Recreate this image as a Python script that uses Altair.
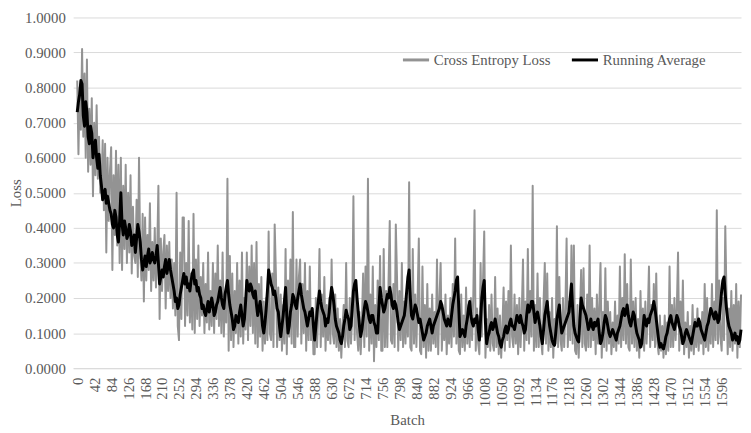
import altair as alt
import pandas as pd

# x categories: both series sampled every 3 batches
BATCH = list(range(0, 1645, 3))

CROSS_ENTROPY = [
    0.82, 0.61, 0.80, 0.68, 0.91, 0.66, 0.84, 0.60, 0.88, 0.56, 0.74, 0.58,
    0.77, 0.49, 0.70, 0.55, 0.75, 0.54, 0.66, 0.50, 0.52, 0.65, 0.45, 0.64,
    0.33, 0.60, 0.42, 0.56, 0.63, 0.28, 0.55, 0.38, 0.62, 0.35, 0.58, 0.30,
    0.60, 0.28, 0.52, 0.34, 0.58, 0.30, 0.50, 0.33, 0.55, 0.27, 0.46, 0.32,
    0.30, 0.48, 0.26, 0.60, 0.33, 0.25, 0.44, 0.19, 0.43, 0.25, 0.38, 0.28,
    0.47, 0.22, 0.36, 0.25, 0.40, 0.23, 0.33, 0.52, 0.14, 0.37, 0.22, 0.33,
    0.38, 0.17, 0.35, 0.22, 0.36, 0.20, 0.31, 0.17, 0.30, 0.15, 0.50, 0.12,
    0.08, 0.33, 0.14, 0.43, 0.43, 0.12, 0.30, 0.15, 0.42, 0.13, 0.27, 0.11,
    0.44, 0.10, 0.31, 0.14, 0.35, 0.12, 0.26, 0.15, 0.30, 0.10, 0.24, 0.13,
    0.33, 0.11, 0.22, 0.12, 0.30, 0.10, 0.27, 0.14, 0.35, 0.12, 0.25, 0.10,
    0.33, 0.09, 0.21, 0.13, 0.54, 0.05, 0.32, 0.08, 0.27, 0.06, 0.22, 0.10,
    0.30, 0.07, 0.25, 0.09, 0.33, 0.07, 0.20, 0.11, 0.33, 0.08, 0.29, 0.12,
    0.35, 0.10, 0.30, 0.07, 0.36, 0.06, 0.24, 0.09, 0.26, 0.05, 0.19, 0.07,
    0.20, 0.08, 0.39, 0.10, 0.08, 0.27, 0.06, 0.41, 0.27, 0.06, 0.23, 0.08,
    0.21, 0.05, 0.18, 0.07, 0.34, 0.04, 0.25, 0.09, 0.31, 0.07, 0.445, 0.06,
    0.06, 0.31, 0.09, 0.26, 0.31, 0.07, 0.24, 0.10, 0.30, 0.05, 0.22, 0.08,
    0.29, 0.08, 0.17, 0.04, 0.04, 0.20, 0.06, 0.16, 0.34, 0.06, 0.21, 0.09,
    0.26, 0.05, 0.18, 0.08, 0.20, 0.07, 0.31, 0.10, 0.07, 0.21, 0.06, 0.17,
    0.05, 0.14, 0.03, 0.12, 0.18, 0.06, 0.30, 0.08, 0.06, 0.20, 0.07, 0.15,
    0.49, 0.08, 0.23, 0.10, 0.05, 0.16, 0.04, 0.13, 0.27, 0.06, 0.29, 0.09,
    0.54, 0.05, 0.21, 0.07, 0.29, 0.02, 0.18, 0.06, 0.25, 0.08, 0.32, 0.05,
    0.05, 0.34, 0.06, 0.22, 0.06, 0.25, 0.42, 0.08, 0.07, 0.24, 0.06, 0.41,
    0.26, 0.05, 0.22, 0.08, 0.30, 0.06, 0.19, 0.07, 0.20, 0.09, 0.53, 0.06,
    0.05, 0.34, 0.07, 0.21, 0.06, 0.20, 0.37, 0.05, 0.04, 0.29, 0.06, 0.18,
    0.03, 0.24, 0.05, 0.17, 0.05, 0.21, 0.07, 0.16, 0.06, 0.31, 0.04, 0.19,
    0.30, 0.05, 0.17, 0.08, 0.21, 0.04, 0.15, 0.07, 0.20, 0.06, 0.24, 0.09,
    0.37, 0.07, 0.21, 0.05, 0.04, 0.21, 0.06, 0.15, 0.05, 0.23, 0.07, 0.18,
    0.06, 0.20, 0.08, 0.21, 0.45, 0.05, 0.17, 0.07, 0.04, 0.30, 0.09, 0.25,
    0.39, 0.03, 0.14, 0.06, 0.18, 0.05, 0.21, 0.07, 0.05, 0.26, 0.06, 0.17,
    0.04, 0.15, 0.03, 0.12, 0.23, 0.05, 0.19, 0.08, 0.22, 0.06, 0.35, 0.09,
    0.06, 0.21, 0.07, 0.18, 0.04, 0.20, 0.06, 0.16, 0.31, 0.05, 0.19, 0.08,
    0.34, 0.07, 0.22, 0.09, 0.52, 0.05, 0.18, 0.06, 0.27, 0.06, 0.20, 0.08,
    0.04, 0.19, 0.30, 0.07, 0.27, 0.05, 0.16, 0.06, 0.20, 0.03, 0.14, 0.07,
    0.405, 0.06, 0.26, 0.08, 0.05, 0.20, 0.06, 0.17, 0.37, 0.06, 0.19, 0.08,
    0.35, 0.07, 0.35, 0.05, 0.04, 0.18, 0.03, 0.15, 0.28, 0.06, 0.285, 0.07,
    0.05, 0.21, 0.06, 0.35, 0.06, 0.20, 0.08, 0.17, 0.04, 0.21, 0.07, 0.18,
    0.30, 0.03, 0.16, 0.06, 0.285, 0.05, 0.19, 0.07, 0.16, 0.04, 0.13, 0.06,
    0.19, 0.05, 0.15, 0.07, 0.29, 0.06, 0.20, 0.08, 0.325, 0.07, 0.24, 0.06,
    0.05, 0.31, 0.07, 0.19, 0.06, 0.20, 0.05, 0.14, 0.03, 0.22, 0.06, 0.17,
    0.05, 0.19, 0.07, 0.15, 0.29, 0.06, 0.18, 0.08, 0.24, 0.06, 0.27, 0.07,
    0.04, 0.15, 0.05, 0.12, 0.03, 0.15, 0.04, 0.13, 0.05, 0.29, 0.06, 0.18,
    0.06, 0.20, 0.08, 0.17, 0.33, 0.05, 0.19, 0.07, 0.25, 0.04, 0.13, 0.06,
    0.16, 0.03, 0.12, 0.05, 0.18, 0.04, 0.14, 0.06, 0.17, 0.05, 0.13, 0.07,
    0.16, 0.04, 0.24, 0.06, 0.20, 0.05, 0.15, 0.07, 0.24, 0.06, 0.19, 0.08,
    0.45, 0.07, 0.25, 0.09, 0.05, 0.20, 0.08, 0.405, 0.21, 0.04, 0.17, 0.06,
    0.22, 0.05, 0.18, 0.07, 0.24, 0.03, 0.19, 0.06, 0.21,
]

RUNNING_AVERAGE = [
    0.73, 0.76, 0.78, 0.82, 0.81, 0.72, 0.69, 0.76, 0.73, 0.66, 0.64, 0.69,
    0.67, 0.60, 0.63, 0.65, 0.60, 0.57, 0.61, 0.55, 0.52, 0.48, 0.50, 0.51,
    0.47, 0.49, 0.47, 0.45, 0.44, 0.41, 0.40, 0.45, 0.43, 0.38, 0.36, 0.42,
    0.50, 0.41, 0.38, 0.42, 0.40, 0.37, 0.38, 0.41, 0.39, 0.35, 0.36, 0.38,
    0.33, 0.37, 0.41, 0.39, 0.36, 0.31, 0.28, 0.30, 0.32, 0.29, 0.32, 0.34,
    0.30, 0.31, 0.33, 0.31, 0.30, 0.32, 0.35, 0.30, 0.24, 0.26, 0.28, 0.26,
    0.29, 0.31, 0.27, 0.29, 0.31, 0.28, 0.26, 0.24, 0.22, 0.19, 0.20, 0.17,
    0.18, 0.21, 0.23, 0.25, 0.27, 0.24, 0.26, 0.23, 0.24, 0.22, 0.25, 0.27,
    0.28, 0.24, 0.25, 0.22, 0.23, 0.21, 0.20, 0.17, 0.18, 0.16, 0.15, 0.17,
    0.19, 0.16, 0.18, 0.20, 0.18, 0.15, 0.16, 0.18, 0.19, 0.21, 0.23, 0.20,
    0.18, 0.17, 0.21, 0.23, 0.25, 0.21, 0.18, 0.16, 0.14, 0.11, 0.12, 0.15,
    0.14, 0.13, 0.16, 0.18, 0.15, 0.12, 0.14, 0.19, 0.25, 0.23, 0.22, 0.24,
    0.23, 0.21, 0.20, 0.22, 0.18, 0.15, 0.17, 0.19, 0.16, 0.12, 0.10, 0.13,
    0.17, 0.22, 0.28, 0.26, 0.24, 0.23, 0.21, 0.22, 0.20, 0.17, 0.16, 0.12,
    0.09, 0.12, 0.15, 0.19, 0.23, 0.15, 0.10, 0.12, 0.16, 0.18, 0.21, 0.20,
    0.18, 0.17, 0.20, 0.22, 0.24, 0.21, 0.19, 0.17, 0.16, 0.14, 0.12, 0.14,
    0.16, 0.15, 0.17, 0.12, 0.08, 0.12, 0.16, 0.19, 0.22, 0.19, 0.17, 0.16,
    0.15, 0.12, 0.14, 0.13, 0.16, 0.20, 0.23, 0.21, 0.18, 0.14, 0.12, 0.11,
    0.10, 0.08, 0.07, 0.09, 0.12, 0.14, 0.165, 0.15, 0.14, 0.11, 0.12, 0.17,
    0.22, 0.24, 0.25, 0.20, 0.16, 0.12, 0.09, 0.11, 0.14, 0.17, 0.19, 0.18,
    0.16, 0.14, 0.13, 0.15, 0.15, 0.13, 0.12, 0.10, 0.10, 0.17, 0.23, 0.20,
    0.18, 0.16, 0.17, 0.19, 0.21, 0.20, 0.23, 0.21, 0.18, 0.17, 0.19, 0.18,
    0.16, 0.13, 0.11, 0.12, 0.13, 0.14, 0.15, 0.18, 0.22, 0.26, 0.28, 0.20,
    0.15, 0.14, 0.16, 0.18, 0.17, 0.15, 0.13, 0.14, 0.12, 0.10, 0.08, 0.09,
    0.10, 0.12, 0.13, 0.14, 0.12, 0.10, 0.12, 0.13, 0.14, 0.15, 0.16, 0.17,
    0.19, 0.18, 0.16, 0.14, 0.13, 0.12, 0.14, 0.13, 0.12, 0.15, 0.18, 0.20,
    0.22, 0.25, 0.26, 0.17, 0.09, 0.10, 0.11, 0.10, 0.09, 0.12, 0.14, 0.17,
    0.19, 0.15, 0.13, 0.12, 0.14, 0.13, 0.15, 0.11, 0.08, 0.14, 0.20, 0.23,
    0.25, 0.13, 0.07, 0.09, 0.10, 0.12, 0.13, 0.11, 0.12, 0.14, 0.12, 0.10,
    0.09, 0.07, 0.06, 0.08, 0.09, 0.11, 0.12, 0.10, 0.11, 0.13, 0.14, 0.12,
    0.12, 0.11, 0.13, 0.15, 0.14, 0.13, 0.15, 0.13, 0.12, 0.10, 0.11, 0.15,
    0.18, 0.16, 0.17, 0.19, 0.19, 0.16, 0.13, 0.15, 0.16, 0.14, 0.12, 0.09,
    0.07, 0.11, 0.15, 0.17, 0.19, 0.15, 0.12, 0.10, 0.08, 0.07, 0.065, 0.10,
    0.14, 0.16, 0.18, 0.13, 0.10, 0.11, 0.12, 0.13, 0.14, 0.15, 0.16, 0.20,
    0.24, 0.17, 0.12, 0.10, 0.09, 0.08, 0.075, 0.14, 0.20, 0.18, 0.17, 0.16,
    0.15, 0.13, 0.11, 0.12, 0.14, 0.12, 0.11, 0.13, 0.12, 0.13, 0.14, 0.10,
    0.07, 0.08, 0.10, 0.13, 0.15, 0.14, 0.12, 0.10, 0.09, 0.10, 0.11, 0.10,
    0.09, 0.08, 0.10, 0.11, 0.12, 0.14, 0.16, 0.17, 0.15, 0.16, 0.18, 0.15,
    0.13, 0.12, 0.14, 0.16, 0.15, 0.12, 0.10, 0.09, 0.08, 0.06, 0.07, 0.11,
    0.15, 0.13, 0.12, 0.14, 0.13, 0.15, 0.16, 0.17, 0.19, 0.17, 0.14, 0.11,
    0.08, 0.06, 0.07, 0.06, 0.055, 0.07, 0.09, 0.10, 0.12, 0.14, 0.15, 0.13,
    0.12, 0.11, 0.13, 0.15, 0.14, 0.12, 0.11, 0.09, 0.07, 0.08, 0.10, 0.11,
    0.10, 0.09, 0.08, 0.07, 0.09, 0.11, 0.13, 0.12, 0.12, 0.14, 0.13, 0.11,
    0.10, 0.09, 0.08, 0.10, 0.12, 0.13, 0.15, 0.17, 0.16, 0.15, 0.14, 0.16,
    0.15, 0.13, 0.14, 0.18, 0.22, 0.25, 0.26, 0.21, 0.17, 0.14, 0.12, 0.11,
    0.10, 0.08, 0.09, 0.10, 0.08, 0.09, 0.07, 0.08, 0.11,
]

SERIES = ["Cross Entropy Loss", "Running Average"]
SERIES_COLORS = ["#939393", "#000000"]
X_TICKS = list(range(0, 1597, 42))
Y_TICKS = [0.0, 0.1, 0.2, 0.3, 0.4, 0.5, 0.6, 0.7, 0.8, 0.9, 1.0]

n1 = min(len(BATCH), len(CROSS_ENTROPY))
n2 = min(len(BATCH), len(RUNNING_AVERAGE))
df = pd.DataFrame({
    "batch": BATCH[:n1] + BATCH[:n2],
    "loss": CROSS_ENTROPY[:n1] + RUNNING_AVERAGE[:n2],
    "series": [SERIES[0]] * n1 + [SERIES[1]] * n2,
})

FONT = "Liberation Serif"
TXT = "#595959"
GRID = "#d9d9d9"

color = alt.Color(
    "series:N",
    title=None,
    scale=alt.Scale(domain=SERIES, range=SERIES_COLORS),
    legend=alt.Legend(
        orient="none", legendX=332, legendY=28, direction="horizontal",
        symbolType="stroke", symbolSize=700, symbolStrokeWidth=3,
        labelFont=FONT, labelFontSize=15, labelColor=TXT,
        columnPadding=14, labelOffset=3,
    ),
)

x = alt.X(
    "batch:Q",
    scale=alt.Scale(domain=[-10, 1644], nice=False, zero=False),
    axis=alt.Axis(
        values=X_TICKS, format="d", labelAngle=270, grid=False, ticks=False,
        domain=True, domainColor=GRID, labelColor=TXT, labelFont=FONT,
        labelFontSize=15, labelPadding=9, labelOverlap=False, labelFlush=False,
        title="Batch", titleFont=FONT, titleFontSize=15,
        titleFontWeight="normal", titleColor=TXT, titlePadding=6,
    ),
)

y = alt.Y(
    "loss:Q",
    scale=alt.Scale(domain=[0, 1], nice=False),
    axis=alt.Axis(
        values=Y_TICKS, format=".4f", grid=True, gridColor=GRID,
        domain=False, ticks=False, labelPadding=8, labelFont=FONT,
        labelFontSize=15, labelColor=TXT, title="Loss", titleFont=FONT,
        titleFontSize=15, titleFontWeight="normal", titleColor=TXT,
        titlePadding=1,
    ),
)

base = alt.Chart(df)
gray = base.transform_filter(alt.datum.series == SERIES[0]).mark_line(
    strokeWidth=2.0, strokeJoin="round"
).encode(x=x, y=y, color=color)
black = base.transform_filter(alt.datum.series == SERIES[1]).mark_line(
    strokeWidth=3.0, strokeJoin="round"
).encode(x=x, y=y, color=color)

chart = alt.layer(gray, black).properties(
    width=676, height=355, padding=0
).configure_view(strokeWidth=0)

chart.save("out.html", embed_options={"renderer": "svg", "actions": False})
